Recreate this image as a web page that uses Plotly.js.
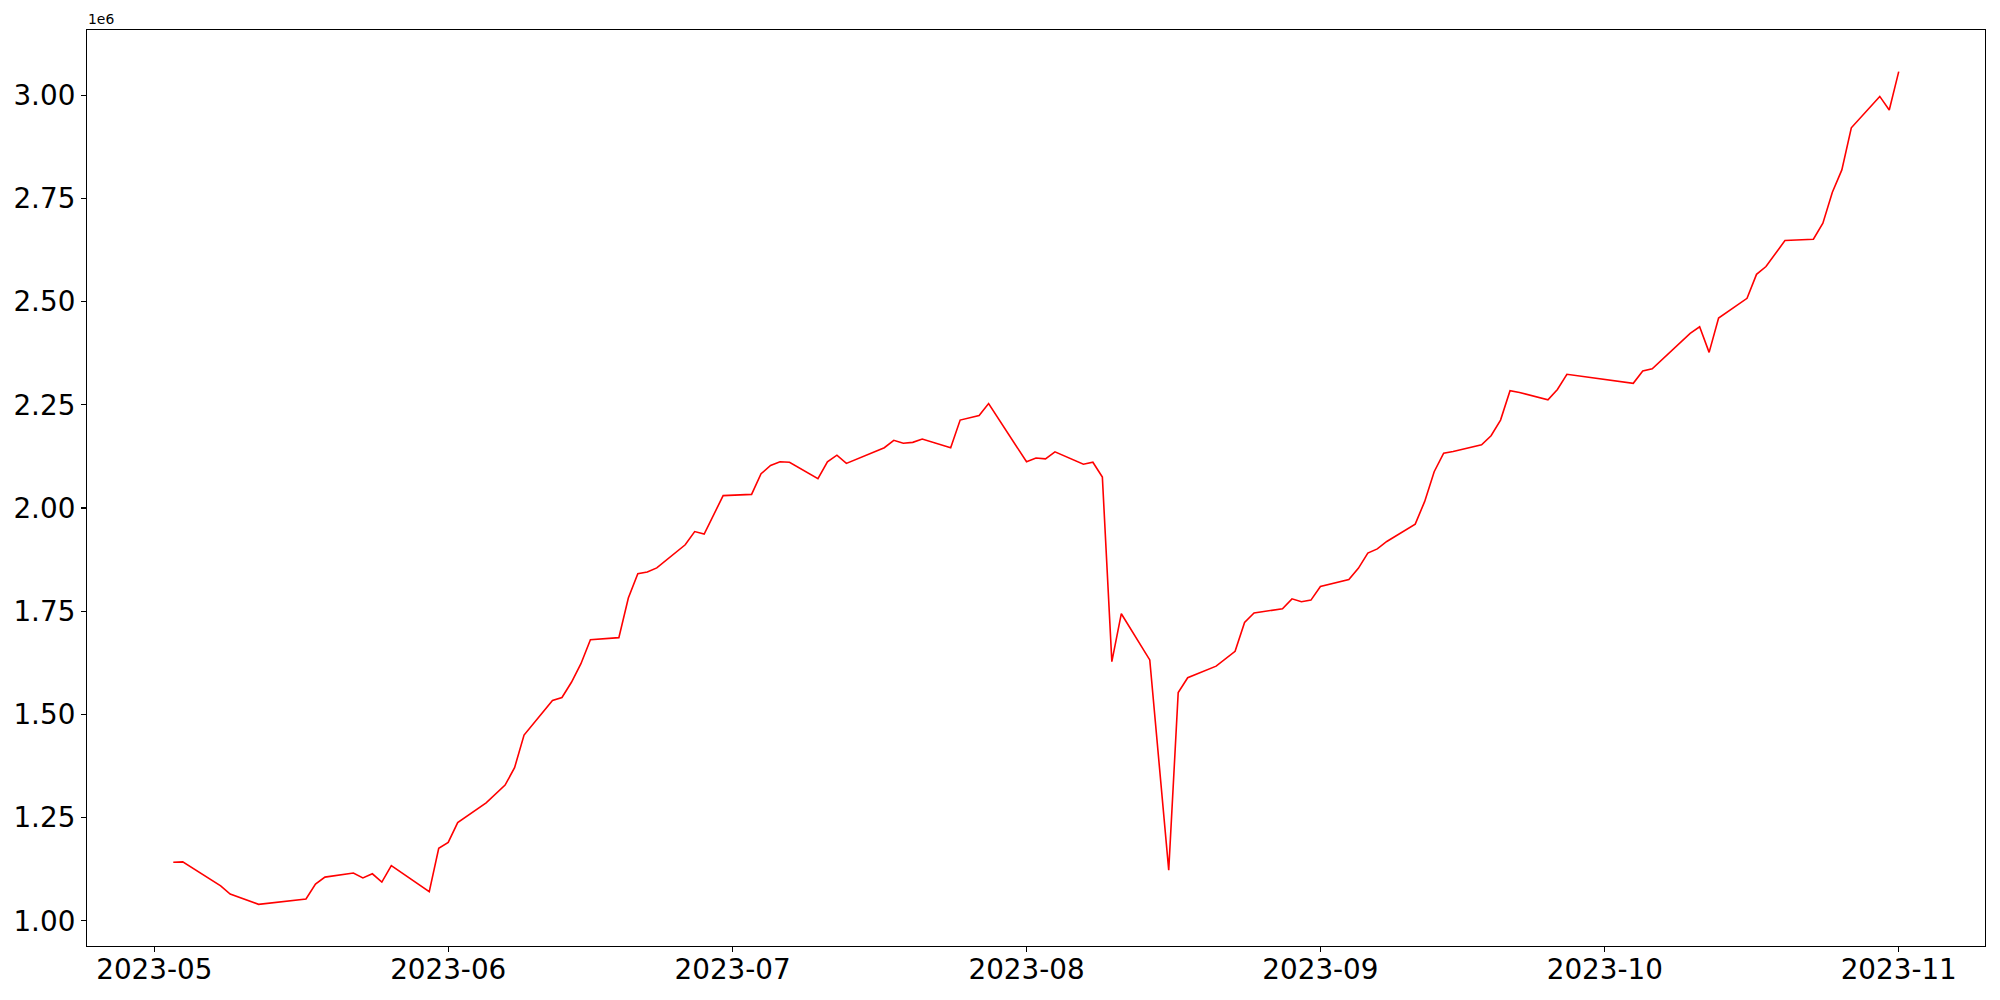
<!DOCTYPE html>
<html>
<head>
<meta charset="utf-8">
<script src="https://cdn.plot.ly/plotly-3.0.1.min.js"></script>
<style>html,body{margin:0;padding:0;background:#fff;}#chart{width:2000px;height:1000px;}</style>
</head>
<body>
<div id="chart"></div>
<script>
const dates = [
"2023-05-03","2023-05-04","2023-05-08","2023-05-09","2023-05-12","2023-05-17","2023-05-18","2023-05-19",
"2023-05-22","2023-05-23","2023-05-24","2023-05-25","2023-05-26","2023-05-30","2023-05-31","2023-06-01",
"2023-06-02","2023-06-05","2023-06-07","2023-06-08","2023-06-09","2023-06-12","2023-06-13","2023-06-14",
"2023-06-15","2023-06-16","2023-06-19","2023-06-20","2023-06-21","2023-06-22","2023-06-23","2023-06-26",
"2023-06-27","2023-06-28","2023-06-30","2023-07-03","2023-07-04","2023-07-05","2023-07-06","2023-07-07",
"2023-07-10","2023-07-11","2023-07-12","2023-07-13","2023-07-17","2023-07-18","2023-07-19","2023-07-20",
"2023-07-21","2023-07-24","2023-07-25","2023-07-27","2023-07-28","2023-08-01","2023-08-02","2023-08-03",
"2023-08-04","2023-08-07","2023-08-08","2023-08-09","2023-08-10","2023-08-11","2023-08-14","2023-08-16",
"2023-08-17","2023-08-18","2023-08-21","2023-08-23","2023-08-24","2023-08-25","2023-08-28","2023-08-29",
"2023-08-30","2023-08-31","2023-09-01","2023-09-04","2023-09-05","2023-09-06","2023-09-07","2023-09-08",
"2023-09-11","2023-09-12","2023-09-13","2023-09-14","2023-09-15","2023-09-18","2023-09-19","2023-09-20",
"2023-09-21","2023-09-22","2023-09-25","2023-09-26","2023-09-27","2023-10-04","2023-10-05","2023-10-06",
"2023-10-10","2023-10-11","2023-10-12","2023-10-13","2023-10-16","2023-10-17","2023-10-18","2023-10-20",
"2023-10-23","2023-10-24","2023-10-25","2023-10-26","2023-10-27","2023-10-30","2023-10-31","2023-11-01"
];
const values = [
1142000,1143000,1085000,1065000,1040000,1053000,1089000,1106000,
1116000,1104000,1114000,1094000,1134000,1071000,1176000,1190000,
1238000,1286000,1329000,1371000,1450000,1534000,1541000,1578000,
1623000,1681000,1686000,1782000,1841000,1845000,1855000,1911000,
1943000,1937000,2030000,2033000,2083000,2103000,2112000,2111000,
2071000,2112000,2128000,2108000,2146000,2164000,2157000,2159000,
2167000,2146000,2213000,2224000,2253000,2112000,2121000,2119000,
2136000,2106000,2111000,2075000,1628000,1744000,1632000,1123000,
1553000,1589000,1617000,1653000,1723000,1746000,1756000,1780000,
1773000,1777000,1810000,1827000,1854000,1891000,1901000,1919000,
1961000,2016000,2088000,2133000,2137000,2153000,2175000,2213000,
2284000,2280000,2262000,2287000,2324000,2302000,2332000,2337000,
2423000,2439000,2377000,2460000,2508000,2566000,2585000,2648000,
2651000,2690000,2765000,2819000,2921000,2997000,2964000,3057000
];
const yTickVals = [1000000,1250000,1500000,1750000,2000000,2250000,2500000,2750000,3000000];
const yTickText = ["1.00","1.25","1.50","1.75","2.00","2.25","2.50","2.75","3.00"];
const xTickVals = ["2023-05-01","2023-06-01","2023-07-01","2023-08-01","2023-09-01","2023-10-01","2023-11-01"];
const xTickText = ["2023-05","2023-06","2023-07","2023-08","2023-09","2023-10","2023-11"];
const offsetLabel = "1e6";

// matplotlib-like 5% margins
const t0 = Date.parse(dates[0] + "T00:00:00Z"), t1 = Date.parse(dates[dates.length-1] + "T00:00:00Z");
const tp = (t1 - t0) * 0.05;
const fmt = t => new Date(t).toISOString().replace("T"," ").replace("Z","");
const vmin = Math.min(...values), vmax = Math.max(...values);
const vp = (vmax - vmin) * 0.05;

const font = {family: "DejaVu Sans, sans-serif", size: 27.8, color: "#000"};
const axisCommon = {
  showline: true, mirror: true, linecolor: "#000", linewidth: 1.1,
  ticks: "outside", ticklen: 5, tickwidth: 1.1, tickcolor: "#000",
  showgrid: false, zeroline: false, tickfont: font
};

Plotly.newPlot("chart", [{
  x: dates, y: values, type: "scatter", mode: "lines",
  line: {color: "red", width: 1.6}, hoverinfo: "x+y"
}], {
  width: 2000, height: 1000,
  margin: {l: 87, r: 15, t: 30, b: 54},
  paper_bgcolor: "#fff", plot_bgcolor: "#fff",
  showlegend: false,
  xaxis: Object.assign({}, axisCommon, {
    type: "date", range: [fmt(t0 - tp), fmt(t1 + tp)],
    tickmode: "array", tickvals: xTickVals, ticktext: xTickText,
    ticklabelstandoff: -6
  }),
  yaxis: Object.assign({}, axisCommon, {
    range: [vmin - vp, vmax + vp],
    tickmode: "array", tickvals: yTickVals, ticktext: yTickText
  }),
  annotations: [{
    text: offsetLabel, xref: "paper", yref: "paper", x: 0, y: 1,
    xanchor: "left", yanchor: "bottom", showarrow: false,
    font: {family: "DejaVu Sans, sans-serif", size: 13.9, color: "#000"}, borderpad: 0, yshift: 2
  }]
}, {displayModeBar: false, staticPlot: true});
</script>
</body>
</html>
